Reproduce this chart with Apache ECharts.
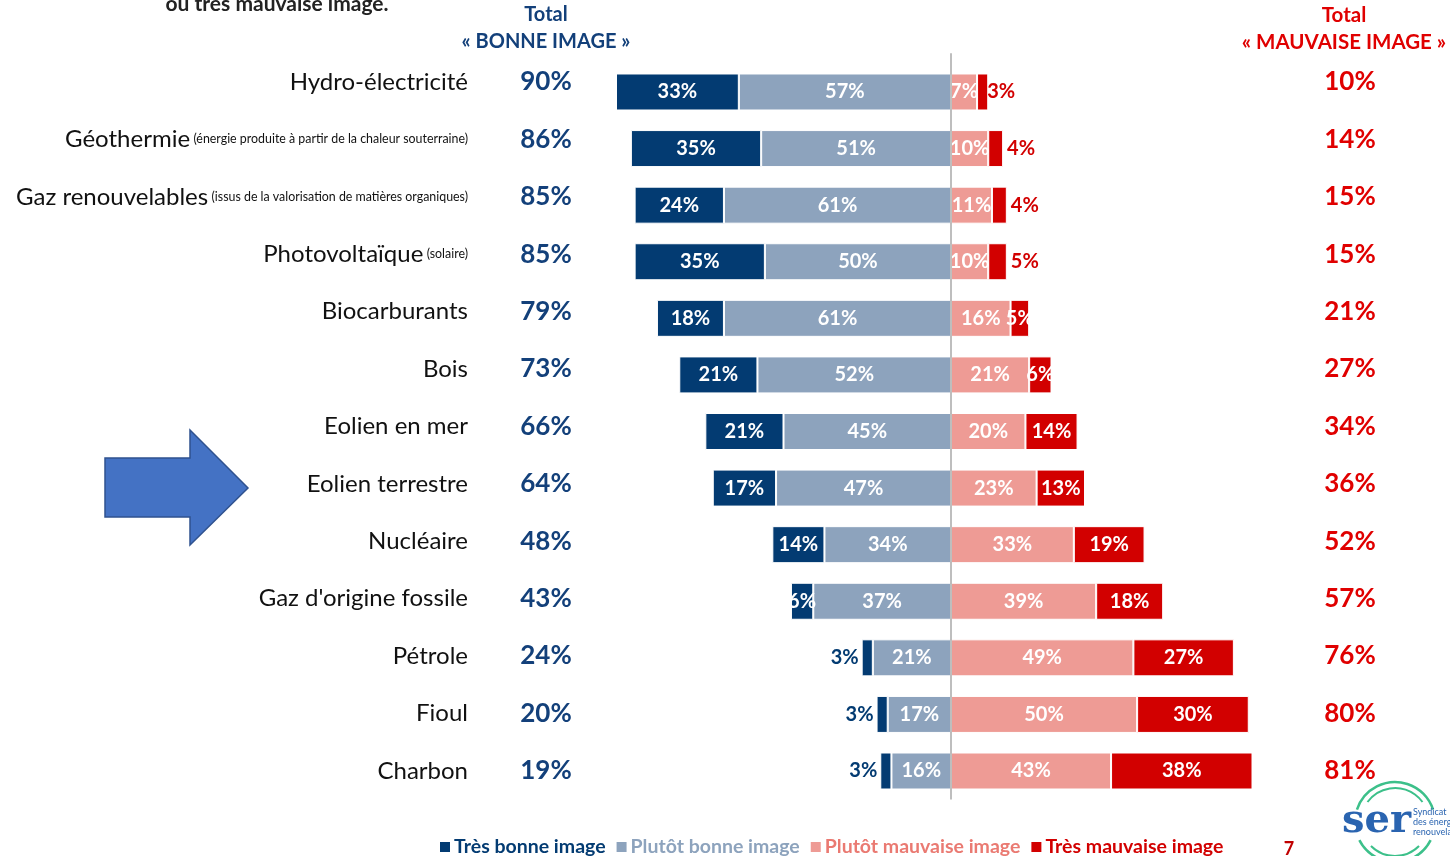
<!DOCTYPE html>
<html>
<head>
<meta charset="utf-8">
<script src="https://cdn.jsdelivr.net/npm/echarts@6/dist/echarts.min.js"></script>
<style>html,body{margin:0;padding:0;background:#fff;}#c{width:1450px;height:856px;}</style>
</head>
<body>
<div id="c"></div>
<script>
const categories = ['Hydro-électricité','Géothermie','Gaz renouvelables','Photovoltaïque','Biocarburants','Bois','Eolien en mer','Eolien terrestre','Nucléaire',"Gaz d'origine fossile",'Pétrole','Fioul','Charbon'];
const subLabels = ['','(énergie produite à partir de la chaleur souterraine)','(issus de la valorisation de matières organiques)','(solaire)','','','','','','','','',''];
const tresBonne = [33,35,24,35,18,21,21,17,14,6,3,3,3];
const plutotBonne = [57,51,61,50,61,52,45,47,34,37,21,17,16];
const plutotMauvaise = [7,10,11,10,16,21,20,23,33,39,49,50,43];
const tresMauvaise = [3,4,4,5,5,6,14,13,19,18,27,30,38];
const totalBonne = [90,86,85,85,79,73,66,64,48,43,24,20,19];
const totalMauvaise = [10,14,15,15,21,27,34,36,52,57,76,80,81];
const seriesNames = ['Très bonne image','Plutôt bonne image','Plutôt mauvaise image','Très mauvaise image'];

const C_DARK = '#033b72', C_GREY = '#8da3bd', C_SALMON = '#ee9b95', C_RED = '#d20000';
const FONT = 'Lato, "Open Sans", sans-serif';

const chart = echarts.init(document.getElementById('c'));
const pct = p => Math.abs(p.value) + '%';
const baseLabel = {show:true, color:'#fff', fontFamily:FONT, fontWeight:'bold', fontSize:20, formatter:pct};

function items(arr, sign, smallRule){
  return arr.map((v,i)=>{
    const it = {value: sign*v};
    const l = smallRule(i);
    if (l) it.label = l;
    return it;
  });
}

const option = {
  animation:false,
  backgroundColor:'#fff',
  grid:[
    {left:616, right:164, top:63.7, height:735.6},
    {left:616, right:164, top:53.3, height:746.2}
  ],
  xAxis:[
    {gridIndex:0, type:'value', min:-90, max:90, show:false},
    {gridIndex:1, type:'value', min:-90, max:90, show:false}
  ],
  yAxis:[
    {gridIndex:0, type:'category', data:categories, inverse:true, show:false},
    {gridIndex:1, type:'category', data:categories, inverse:true, position:'left',
      axisLine:{show:false}, axisTick:{show:false},
      axisLabel:{margin:148, align:'right', formatter:(v,i)=> subLabels[i] ? '{a|'+v+'} {b|'+subLabels[i]+'}' : '{a|'+v+'}',
        rich:{a:{fontFamily:FONT, fontSize:24, color:'#111'}, b:{fontFamily:FONT, fontSize:12.4, color:'#111', verticalAlign:'middle'}}}},
    {gridIndex:1, type:'category', data:categories, inverse:true, position:'left',
      axisLine:{show:false}, axisTick:{show:false},
      axisLabel:{margin:70, align:'center', fontFamily:FONT, fontWeight:'bold', fontSize:26, color:'#13407a',
        formatter:(v,i)=> totalBonne[i] + '%'}},
    {gridIndex:1, type:'category', data:categories, inverse:true, position:'right',
      axisLine:{show:false}, axisTick:{show:false},
      axisLabel:{margin:64, align:'center', fontFamily:FONT, fontWeight:'bold', fontSize:26, color:'#e00000',
        formatter:(v,i)=> totalMauvaise[i] + '%'}}
  ],
  legend:{
    top:832, left:433, itemWidth:12, itemHeight:12, itemGap:9, icon:'rect',
    textStyle:{fontFamily:FONT, fontSize:19.5, padding:[0,0,0,-2]},
    data:[
      {name:seriesNames[0], textStyle:{color:C_DARK, fontWeight:'bold'}},
      {name:seriesNames[1], textStyle:{color:C_GREY, fontWeight:'bold'}},
      {name:seriesNames[2], textStyle:{color:'#ea7a72', fontWeight:'bold'}},
      {name:seriesNames[3], textStyle:{color:C_RED, fontWeight:'bold'}}
    ]
  },
  series:[
    {name:seriesNames[1], type:'bar', stack:'s', barWidth:37, data:items(plutotBonne,-1,()=>null),
      itemStyle:{color:C_GREY, borderColor:'#fff', borderWidth:1}, label:baseLabel},
    {name:seriesNames[0], type:'bar', stack:'s', barWidth:37,
      data:items(tresBonne,-1,i=> tresBonne[i] <= 3 ? {position:'left', distance:3, color:C_DARK} : null),
      itemStyle:{color:C_DARK, borderColor:'#fff', borderWidth:1}, label:baseLabel},
    {name:seriesNames[2], type:'bar', stack:'s', barWidth:37, data:items(plutotMauvaise,1,()=>null),
      itemStyle:{color:C_SALMON, borderColor:'#fff', borderWidth:1}, label:baseLabel},
    {name:seriesNames[3], type:'bar', stack:'s', barWidth:37,
      data:items(tresMauvaise,1,i=> i < 4 ? {position:'right', distance: i===0 ? -1 : 4, color:C_RED} : null),
      itemStyle:{color:C_RED, borderColor:'#fff', borderWidth:1}, label:baseLabel},
    {name:'axe', type:'line', xAxisIndex:1, yAxisIndex:1, data:[], silent:true, z:5,
      markLine:{silent:true, symbol:'none', label:{show:false}, lineStyle:{color:'#a8a8a8', width:1.5, type:'solid'},
        data:[{xAxis:0}]}}
  ],
  graphic:[
    {type:'text', x:277, y:4, style:{text:'ou très mauvaise image.', font:'bold 21px '+FONT, fill:'#222', textAlign:'center', textVerticalAlign:'middle'}},
    {type:'text', x:546, y:15, style:{text:'Total', font:'bold 20px '+FONT, fill:'#13407a', textAlign:'center', textVerticalAlign:'middle'}},
    {type:'text', x:546, y:42, style:{text:'« BONNE IMAGE »', font:'bold 20px '+FONT, fill:'#13407a', textAlign:'center', textVerticalAlign:'middle'}},
    {type:'text', x:1344, y:15, style:{text:'Total', font:'bold 20.5px '+FONT, fill:'#e00000', textAlign:'center', textVerticalAlign:'middle'}},
    {type:'text', x:1344, y:42, style:{text:'« MAUVAISE IMAGE »', font:'bold 20.5px '+FONT, fill:'#e00000', textAlign:'center', textVerticalAlign:'middle'}},
    {type:'text', x:1289, y:849, style:{text:'7', font:'bold 18px '+FONT, fill:'#c00000', textAlign:'center', textVerticalAlign:'middle'}},
    {type:'polygon', shape:{points:[[105,458],[190,458],[190,430],[248,488],[190,545],[190,517],[105,517]]},
      style:{fill:'#4472c4', stroke:'#2f528f', lineWidth:1.5}},
    {type:'arc', shape:{cx:1395, cy:822, r:40, startAngle:Math.PI*1.1, endAngle:Math.PI*1.9}, style:{stroke:'#3cc08a', lineWidth:2.5, fill:null}},
    {type:'arc', shape:{cx:1395, cy:822, r:34, startAngle:Math.PI*1.2, endAngle:Math.PI*1.8}, style:{stroke:'#3cc08a', lineWidth:2, fill:null}},
    {type:'arc', shape:{cx:1395, cy:822, r:40, startAngle:Math.PI*0.15, endAngle:Math.PI*0.85}, style:{stroke:'#3cc08a', lineWidth:2.5, fill:null}},
    {type:'arc', shape:{cx:1395, cy:822, r:34, startAngle:Math.PI*0.25, endAngle:Math.PI*0.75}, style:{stroke:'#3cc08a', lineWidth:2, fill:null}},
    {type:'text', x:1342, y:822, style:{text:'ser', font:'bold 40px "DejaVu Serif", serif', fill:'#2a64b0', textVerticalAlign:'middle'}},
    {type:'text', x:1413, y:822, style:{text:'Syndicat\ndes énergies\nrenouvelables', font:'9px '+FONT, fill:'#2a64b0', textVerticalAlign:'middle', lineHeight:10}}
  ]
};
chart.setOption(option);
</script>
</body>
</html>
